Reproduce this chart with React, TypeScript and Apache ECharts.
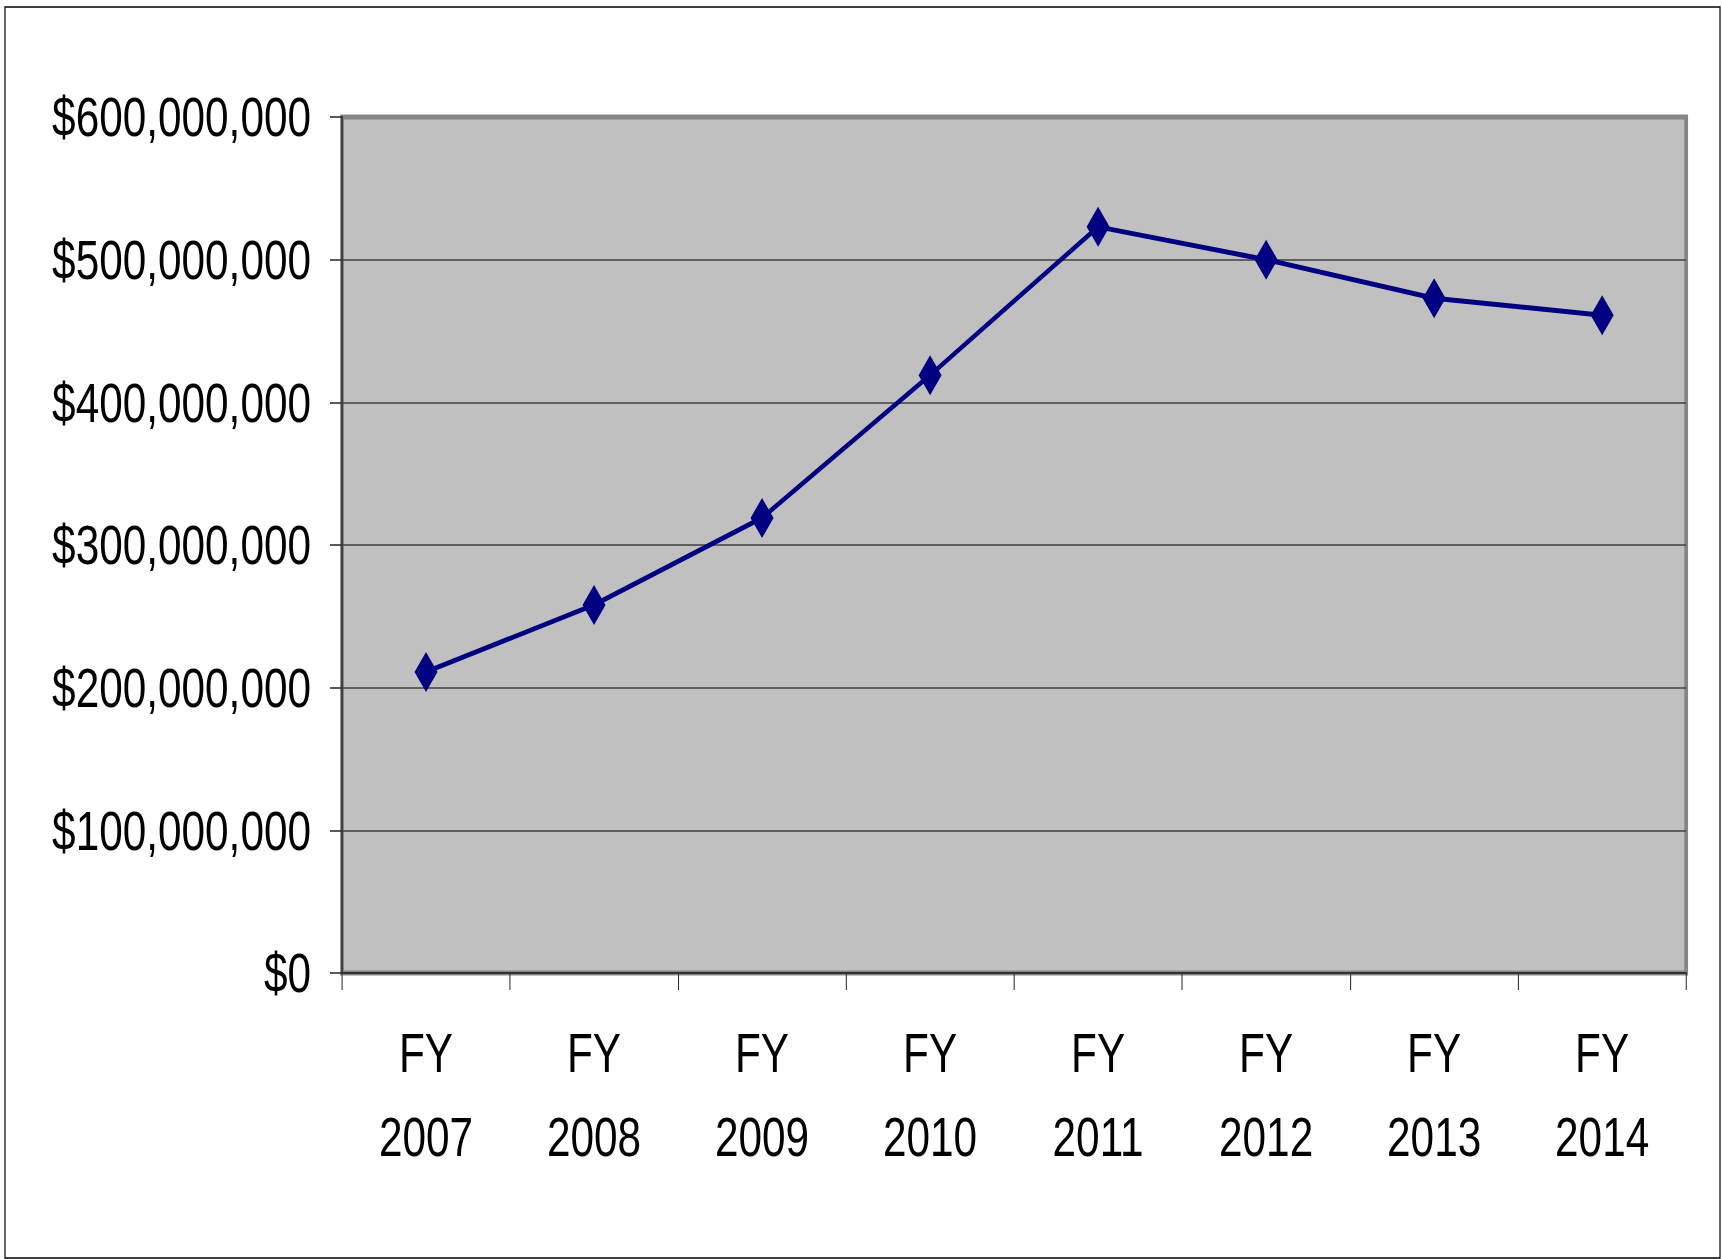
import React, { useEffect, useRef } from "react";
import * as echarts from "echarts";

const categories = ["FY\n2007", "FY\n2008", "FY\n2009", "FY\n2010", "FY\n2011", "FY\n2012", "FY\n2013", "FY\n2014"];
const values = [211000000, 258000000, 319000000, 419000000, 523000000, 500000000, 473000000, 461000000];
const yMin = 0;
const yMax = 600000000;
const yStep = 100000000;

const FONT = "'Liberation Sans', Arial, sans-serif";
// the reference uses a condensed typeface; render wider and compress horizontally
const SX = 0.756;
const PAGE_W = 1722;
const PAGE_H = 1259;
const X = (v: number) => v / SX;

export default function App() {
  const ref = useRef<HTMLDivElement>(null);
  useEffect(() => {
    if (!ref.current) return;
    const chart = echarts.init(ref.current, undefined, { renderer: "svg" });
    chart.setOption({
      animation: false,
      backgroundColor: "#ffffff",
      graphic: [
        {
          type: "rect",
          shape: { x: X(5), y: 7, width: X(1715), height: 1251 },
          style: { fill: "none", stroke: "#000000", lineWidth: 1.6 },
          z: 100,
        },
      ],
      grid: {
        left: X(342),
        top: 117,
        right: X(36),
        bottom: 286,
        show: true,
        containLabel: false,
        outerBoundsMode: "none",
        backgroundColor: "#c0c0c0",
        borderColor: "#868686",
        borderWidth: 5,
      },
      xAxis: {
        type: "category",
        data: categories,
        boundaryGap: true,
        axisLine: { show: true, lineStyle: { color: "#303030", width: 2 } },
        axisTick: { show: true, inside: false, length: 17, lineStyle: { color: "#303030", width: 1.4 } },
        axisLabel: {
          margin: 38,
          fontFamily: FONT,
          fontSize: 56,
          lineHeight: 84,
          color: "#000000",
        },
        splitLine: { show: false },
      },
      yAxis: {
        type: "value",
        min: yMin,
        max: yMax,
        interval: yStep,
        axisLine: { show: true, lineStyle: { color: "#404040", width: 2.6 } },
        axisTick: { show: true, inside: false, length: X(12), lineStyle: { color: "#303030", width: 1.6 } },
        axisLabel: {
          margin: X(31),
          fontFamily: FONT,
          fontSize: 56,
          color: "#000000",
          formatter: (v: number) => "$" + v.toLocaleString("en-US"),
        },
        splitLine: {
          show: true,
          showMinLine: false,
          showMaxLine: false,
          lineStyle: { color: "#404040", width: 1.5 },
        },
      },
      series: [
        {
          type: "line",
          data: values,
          symbol: "diamond",
          symbolSize: [X(23), 40],
          lineStyle: { color: "#000080", width: 5 },
          itemStyle: { color: "#000080" },
          z: 5,
        },
      ],
    });
    return () => chart.dispose();
  }, []);
  return (
    <div style={{ position: "fixed", left: 0, top: 0, width: PAGE_W, height: PAGE_H, overflow: "hidden", background: "#fff" }}>
      <div
        ref={ref}
        style={{ width: X(PAGE_W), height: PAGE_H, transform: `scaleX(${SX})`, transformOrigin: "0 0" }}
      />
    </div>
  );
}
